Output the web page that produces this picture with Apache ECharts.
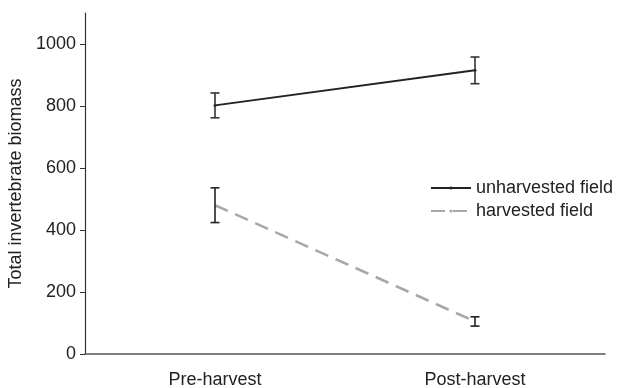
<!DOCTYPE html>
<html>
<head>
<meta charset="utf-8">
<script src="https://cdn.jsdelivr.net/npm/echarts@6/dist/echarts.min.js"></script>
<style>html,body{margin:0;padding:0;background:#fff}#main{width:618px;height:388px}</style>
</head>
<body>
<div id="main"></div>
<script>
// data
var categories = ['Pre-harvest', 'Post-harvest'];
var unharvested = [802, 915];
var unharvestedErr = [40, 43];
var harvested = [480, 105];
var harvestedErr = [56, 15];
var yTicks = [0, 200, 400, 600, 800, 1000];

var font = 'Liberation Sans, Arial, sans-serif';

function errSeries(name, vals, errs, color) {
    var d = [];
    for (var i = 0; i < vals.length; i++) {
        d.push([i, vals[i] - errs[i], vals[i] + errs[i]]);
    }
    return {
        name: name + ' err',
        type: 'custom',
        data: d,
        z: 5,
        renderItem: function (params, api) {
            var lo = api.coord([api.value(0), api.value(1)]);
            var hi = api.coord([api.value(0), api.value(2)]);
            var w = 4.5;
            var st = { stroke: color, lineWidth: 1.6 };
            return {
                type: 'group',
                children: [
                    { type: 'line', shape: { x1: lo[0], y1: lo[1], x2: hi[0], y2: hi[1] }, style: st },
                    { type: 'line', shape: { x1: lo[0] - w, y1: lo[1], x2: lo[0] + w, y2: lo[1] }, style: st },
                    { type: 'line', shape: { x1: hi[0] - w, y1: hi[1], x2: hi[0] + w, y2: hi[1] }, style: st }
                ]
            };
        }
    };
}

var chart = echarts.init(document.getElementById('main'));
chart.setOption({
    animation: false,
    textStyle: { fontFamily: font },
    grid: { left: 85, right: 13, top: 13, bottom: 34, outerBoundsMode: 'none' },
    legend: {
        data: ['unharvested field', 'harvested field'],
        orient: 'vertical',
        left: 425,
        top: 174,
        itemWidth: 40,
        itemHeight: 4,
        itemGap: 5,
        textStyle: { fontSize: 18, color: '#222', fontFamily: font }
    },
    xAxis: {
        type: 'category',
        data: categories,
        boundaryGap: true,
        axisLine: { lineStyle: { color: '#555', width: 1.5 } },
        axisTick: { length: 5, lineStyle: { color: '#555' } },
        axisLabel: { fontSize: 18, color: '#222', margin: 17 }
    },
    yAxis: {
        type: 'value',
        min: 0,
        max: 1100,
        interval: 100,
        name: 'Total invertebrate biomass',
        nameLocation: 'middle',
        nameGap: 57,
        nameTextStyle: { fontSize: 18, color: '#222' },
        splitLine: { show: false },
        axisLine: { show: true, lineStyle: { color: '#333', width: 1.2 } },
        axisTick: { show: true, length: 5, customValues: yTicks, lineStyle: { color: '#333' } },
        axisLabel: {
            fontSize: 18, color: '#222', margin: 9, customValues: yTicks,
            formatter: function (v) { return String(v); }
        }
    },
    series: [
        {
            name: 'unharvested field',
            type: 'line',
            data: unharvested,
            symbol: 'circle',
            symbolSize: 3,
            itemStyle: { color: '#222' },
            lineStyle: { color: '#222', width: 2 },
            z: 4
        },
        {
            name: 'harvested field',
            type: 'line',
            data: harvested,
            symbol: 'none',
            itemStyle: { color: '#a8a8a8' },
            lineStyle: { color: '#a8a8a8', width: 2.6, type: [14, 8] },
            z: 4
        },
        errSeries('unharvested field', unharvested, unharvestedErr, '#333'),
        errSeries('harvested field', harvested, harvestedErr, '#222')
    ]
});
</script>
</body>
</html>
